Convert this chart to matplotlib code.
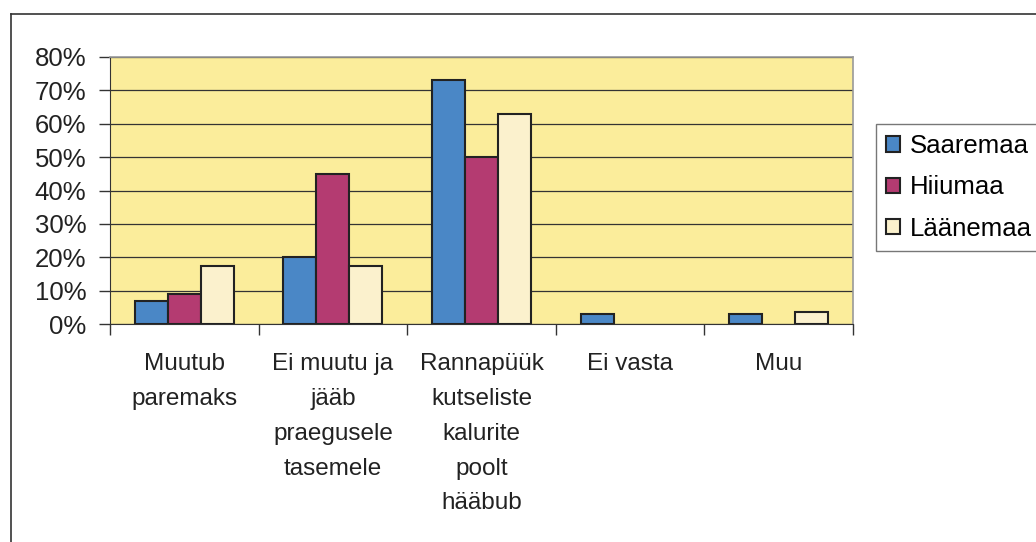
import numpy as np
import matplotlib
matplotlib.use("Agg")
import matplotlib.pyplot as plt
from matplotlib.lines import Line2D

plt.rcParams['font.family'] = ['Liberation Sans', 'DejaVu Sans']

categories = ["Muutub\nparemaks", "Ei muutu ja\njääb\npraegusele\ntasemele",
              "Rannapüük\nkutseliste\nkalurite\npoolt\nhääbub", "Ei vasta", "Muu"]
series_names = ["Saaremaa", "Hiiumaa", "Läänemaa"]
saaremaa = [6.8, 20.0, 73.2, 3.0, 3.0]
hiiumaa = [9.1, 45.0, 50.0, 0.0, 0.0]
laanemaa = [17.3, 17.3, 62.9, 0.0, 3.6]
y_ticks = [0, 10, 20, 30, 40, 50, 60, 70, 80]

colors = ['#4a87c6', '#b43b71', '#fbf1cd']
W, H = 1036, 542

fig = plt.figure(figsize=(W / 100, H / 100), dpi=100)
ax = fig.add_axes([110 / W, 1 - 324 / H, (853 - 110) / W, (324 - 57) / H])
ax.set_facecolor('#fbed9b')

x = np.arange(len(categories))
bw = 0.222
for i, (vals, c, name) in enumerate(zip([saaremaa, hiiumaa, laanemaa], colors, series_names)):
    # zero values get no outline (nothing drawn in the original)
    lws = [1.5 if v > 0 else 0 for v in vals]
    ax.bar(x + (i - 1) * bw, vals, width=bw, color=c, edgecolor='#222222',
           linewidth=lws, label=name, zorder=3)

ax.set_xlim(-0.5, len(categories) - 0.5)
ax.set_ylim(0, 80)
ax.set_yticks(y_ticks)
ax.set_yticklabels([f"{v}%" for v in y_ticks], fontsize=18.5, color='#222222')
ax.yaxis.grid(True, color='#333333', linewidth=0.9, zorder=1)
ax.set_axisbelow(True)

ax.set_xticks(np.arange(len(categories) + 1) - 0.5)
ax.set_xticklabels([])
ax.tick_params(axis='x', length=8, color='#333333', width=1)
ax.tick_params(axis='y', length=8, color='#333333', width=1, pad=9)
for xi, lab in zip(x, categories):
    ax.text(xi, -8.8, lab, ha='center', va='top', fontsize=17.5, color='#222222',
            linespacing=1.75)

for s in ['top', 'right']:
    ax.spines[s].set_color('#999999')
    ax.spines[s].set_linewidth(1.2)
ax.spines['left'].set_color('#333333')
ax.spines['bottom'].set_color('#333333')

leg = ax.legend(loc='upper left', bbox_to_anchor=(876 / W, 1 - 124 / H),
                bbox_transform=fig.transFigure, fontsize=18.5, frameon=True,
                fancybox=False, edgecolor='#555555', handlelength=0.55,
                handleheight=0.55, handletextpad=0.35, labelspacing=0.67,
                borderpad=0.4, borderaxespad=0)
leg.get_frame().set_linewidth(1)
for h in leg.legend_handles:
    h.set_linewidth(1.5)

# outer chart frame
fig.add_artist(Line2D([11 / W, 11 / W], [0, 1 - 14 / H], color='#333333', lw=1.2))
fig.add_artist(Line2D([11 / W, 1], [1 - 14 / H, 1 - 14 / H], color='#333333', lw=1.2))

fig.savefig('out.png', dpi=100)
